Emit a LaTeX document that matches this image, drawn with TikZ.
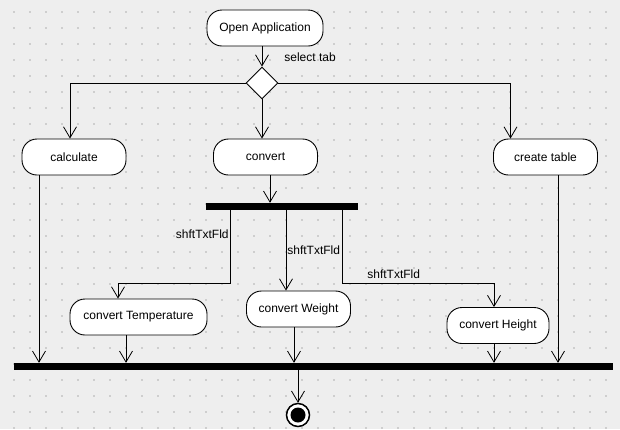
\documentclass[tikz,border=0pt]{standalone}
\usepackage{fontspec}
\setmainfont{Liberation Sans}
\usetikzlibrary{arrows.meta,shapes.geometric,calc}
\definecolor{bgc}{RGB}{238,238,238}
\definecolor{dotc}{RGB}{206,206,206}
\begin{document}
\begin{tikzpicture}[x=1pt,y=-1pt,
  act/.style={draw=black,fill=white,line width=0.9pt,rounded corners=15pt,minimum height=36pt,inner sep=0pt,font=\fontsize{12}{14}\selectfont},
  bar/.style={fill=black,draw=none,minimum height=7pt,inner sep=0pt},
  arr/.style={line width=0.8pt,-{Straight Barb[length=11pt,width=13pt,line width=0.8pt]}},
  lbl/.style={font=\fontsize{12}{14}\selectfont,inner sep=1pt}]
\fill[bgc] (0,0) rectangle (620,429);
\useasboundingbox (0,0) rectangle (620,429);
\foreach \i in {0,...,37}{\foreach \j in {0,...,26}{
  \fill[dotc] ({13+16*\i},{11+16*\j}) rectangle ++(2,2);}}
% nodes
\node[act,minimum width=116pt] (open) at (265,28) {Open Application};
\node[diamond,draw=black,fill=white,line width=0.9pt,minimum width=32pt,minimum height=32pt,inner sep=0pt] (dia) at (262,83) {};
\node[act,minimum width=104pt] (calc) at (74,157) {calculate};
\node[act,minimum width=104pt] (conv) at (265.5,157) {convert};
\node[act,minimum width=104pt] (create) at (545.5,157) {create table};
\node[bar,minimum width=152pt] (fork) at (282,206.5) {};
\node[act,minimum width=137pt] (convT) at (138.5,317) {convert Temperature};
\node[act,minimum width=104pt] (convW) at (298.5,309) {convert Weight};
\node[act,minimum width=102pt] (convH) at (498,325.5) {convert Height};
\node[bar,minimum width=599pt] (join) at (313.5,366.5) {};
\node[circle,draw=black,fill=white,line width=1.5pt,minimum size=23pt,inner sep=0pt] (final) at (298,415) {};
\fill[black] (final.center) circle (7.5);
% entry/exit coordinates
\coordinate (calcIn) at ([xshift=-4pt]calc.north);
\coordinate (createIn) at ([xshift=-35pt]create.north);
\coordinate (convOut) at ([xshift=4.5pt]conv.south);
\coordinate (f1) at ([xshift=-52pt]fork.south);
\coordinate (f2) at ([xshift=4pt]fork.south);
\coordinate (f3) at ([xshift=60pt]fork.south);
\coordinate (tIn) at ([xshift=-20.5pt]convT.north);
\coordinate (hIn) at ([xshift=-4pt]convH.north);
\coordinate (calcOut) at ([xshift=-35pt]calc.south);
\coordinate (tOut) at ([xshift=-12.5pt]convT.south);
\coordinate (wOut) at ([xshift=-4.5pt]convW.south);
\coordinate (hOut) at ([xshift=-4pt]convH.south);
\coordinate (createOut) at ([xshift=12.5pt]create.south);
% connectors
\draw[arr] (open.south -| dia.north) -- node[lbl,right,pos=0.55,xshift=21pt]{select tab} (dia.north);
\draw[arr] (dia.west) -| (calcIn);
\draw[arr] (dia.east) -| (createIn);
\draw[arr] (dia.south) -- (dia.south |- conv.north);
\draw[arr] (convOut) -- (convOut |- fork.north);
\draw[arr] (f1) -- node[lbl,left,pos=0.33]{shftTxtFld} ++(0,73) coordinate (c1) -- (c1 -| tIn) -- (tIn);
\draw[arr] (f2) -- node[lbl,right,pos=0.5]{shftTxtFld} (f2 |- convW.north);
\draw[arr] (f3) -- ++(0,73) coordinate (c3) -- node[lbl,above,pos=0.34,inner sep=4pt]{shftTxtFld} (c3 -| hIn) -- (hIn);
\draw[arr] (calcOut) -- (calcOut |- join.north);
\draw[arr] (tOut) -- (tOut |- join.north);
\draw[arr] (wOut) -- (wOut |- join.north);
\draw[arr] (hOut) -- (hOut |- join.north);
\draw[arr] (createOut) -- (createOut |- join.north);
\draw[arr] (join.south -| final.north) -- (final.north);
\end{tikzpicture}
\end{document}
